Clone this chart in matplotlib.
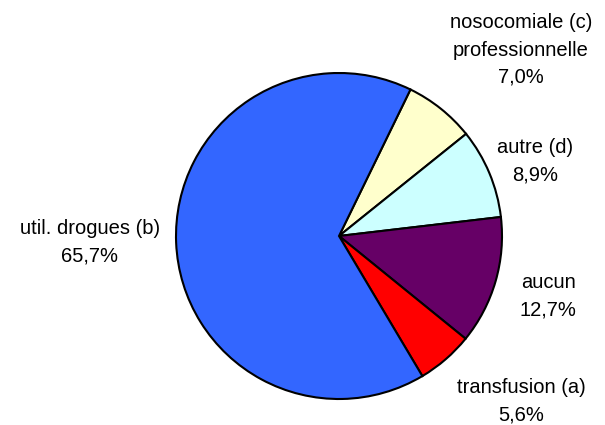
import matplotlib.pyplot as plt

# valeurs (ordre horaire depuis le haut)
categories = ["nosocomiale (c)\nprofessionnelle", "autre (d)", "aucun",
              "transfusion (a)", "util. drogues (b)"]
pourcentages = [7.0, 8.9, 12.7, 5.6, 65.7]
couleurs = ["#FFFFCC", "#CCFFFF", "#660066", "#FF0000", "#3366FF"]

# position des etiquettes en pixels (centre du bloc de texte)
pos_etiquettes = [(521, 50), (535, 161), (548, 296), (521, 401), (90, 242)]

W, H = 605, 425
cx, cy, r = 339, 236, 163

fig = plt.figure(figsize=(W / 100, H / 100), dpi=100)
ax = fig.add_axes([0, 0, 1, 1])

ax.pie(pourcentages, colors=couleurs, startangle=64, counterclock=False,
       wedgeprops=dict(edgecolor="black", linewidth=1.5))

ax.set_xlim(-cx / r, (W - cx) / r)
ax.set_ylim(-(H - cy) / r, cy / r)
ax.set_aspect("auto")
ax.axis("off")

for nom, val, (x, y) in zip(categories, pourcentages, pos_etiquettes):
    texte = nom + "\n" + f"{val:.1f}".replace(".", ",") + "%"
    fig.text(x / W, 1 - y / H, texte, ha="center", va="center",
             fontsize=14.5, family="Liberation Sans", linespacing=1.55)

fig.savefig("out.png", dpi=100)
